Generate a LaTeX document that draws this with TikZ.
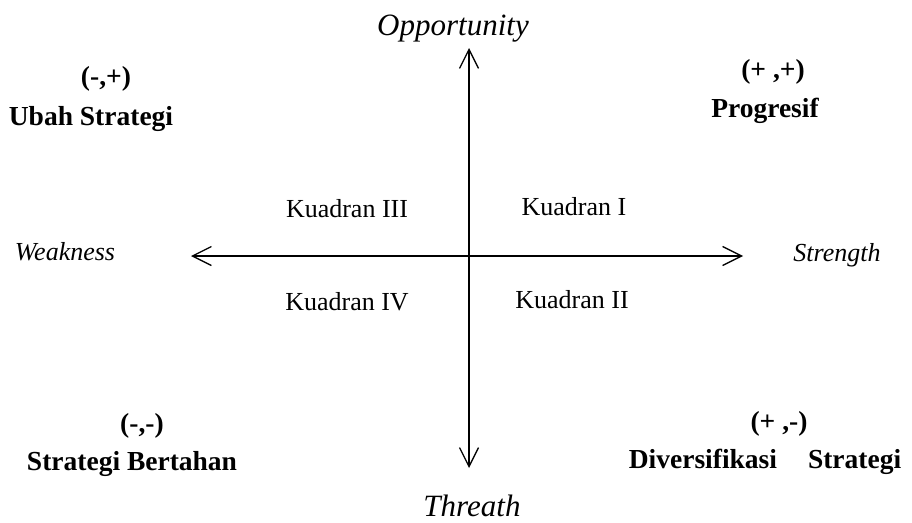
\documentclass[tikz,border=0pt]{standalone}
\usepackage{fontspec}
\setmainfont{Liberation Serif}
\usetikzlibrary{arrows.meta}

\begin{document}
\begin{tikzpicture}[x=1pt,y=-1pt,
  axis/.style={line width=1.3pt, {Straight Barb[length=19pt,width=19pt]}-{Straight Barb[length=19pt,width=19pt]}},
  quad/.style={anchor=base, inner sep=0pt, font=\fontsize{26}{30}\selectfont},
  side/.style={anchor=base, inner sep=0pt, font=\fontsize{26}{30}\selectfont\itshape},
  pole/.style={anchor=base, inner sep=0pt, font=\fontsize{31}{36}\selectfont\itshape},
  strat/.style={anchor=base, inner sep=0pt, font=\fontsize{27.5}{32}\selectfont\bfseries}]

\useasboundingbox (0,0) rectangle (912,522);

% axis ends
\coordinate (W) at (191,256);
\coordinate (E) at (743,256);
\coordinate (N) at (469,48);
\coordinate (S) at (469,468);

%% axes
\draw[axis] (W) -- (E);
\draw[axis] (S) -- (N);

%% axis labels
\node[pole] (opp) at (453,35) {Opportunity};
\node[pole] (thr) at (472,516) {Threath};
\node[side] (weak) at (65,260) {Weakness};
\node[side] (strg) at (837,261) {Strength};

%% quadrants
\node[quad] (q3) at (347,217) {Kuadran III};
\node[quad] (q1) at (574,215) {Kuadran I};
\node[quad] (q4) at (347,310) {Kuadran IV};
\node[quad] (q2) at (572,308) {Kuadran II};

%% strategies
\node[strat] (s3) at (106,85) {(-,+)};
\node[strat] (t3) at (91,125) {Ubah Strategi};
\node[strat] (s1) at (773,78) {(+ ,+)};
\node[strat] (t1) at (765,117) {Progresif};
\node[strat] (s4) at (142,432) {(-,-)};
\node[strat] (t4) at (132,470) {Strategi Bertahan};
\node[strat] (s2) at (779,430) {(+ ,-)};
\node[strat] (t2) at (765,468) {Diversifikasi\hspace{31pt}Strategi};

\end{tikzpicture}
\end{document}
